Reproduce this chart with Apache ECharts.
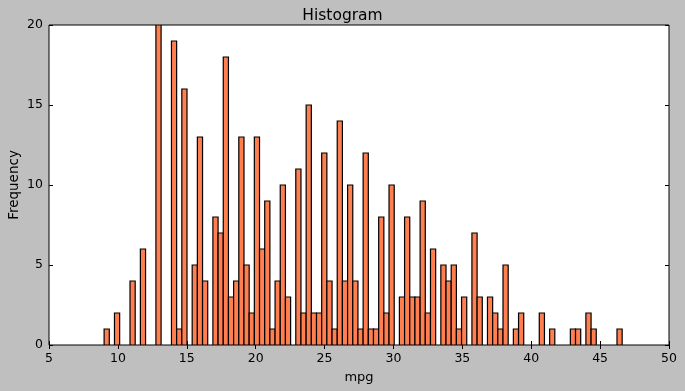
<!DOCTYPE html>
<html>
<head>
<meta charset="utf-8">
<script src="https://cdn.jsdelivr.net/npm/echarts@6/dist/echarts.min.js"></script>
<style>
  html, body { margin: 0; padding: 0; background: #bfbfbf; }
  #chart { width: 685px; height: 391px; }
</style>
</head>
<body>
<div id="chart"></div>
<script>
// histogram of mpg, 100 bins from 9.0 to 46.6
const binStart = 9.0;
const binWidth = 0.376;
const counts = [
  1, 0, 2, 0, 0, 4, 0, 6, 0, 0,
  20, 0, 0, 19, 1, 16, 0, 5, 13, 4,
  0, 8, 7, 18, 3, 4, 13, 5, 2, 13,
  6, 9, 1, 4, 10, 3, 0, 11, 2, 15,
  2, 2, 12, 4, 1, 14, 4, 10, 4, 1,
  12, 1, 1, 8, 2, 10, 0, 3, 8, 3,
  3, 9, 2, 6, 0, 5, 4, 5, 1, 3,
  0, 7, 3, 0, 3, 2, 1, 5, 0, 1,
  2, 0, 0, 0, 2, 0, 1, 0, 0, 0,
  1, 1, 0, 2, 1, 0, 0, 0, 0, 1
];
const xTicks = [5, 50, 5];   // min, max, step
const yTicks = [0, 20, 5];

const textColor = '#000';
const barColor = '#ff7f50';
const font = 'DejaVu Sans';

// [left edge, right edge, count]
const binData = counts.map((c, i) => [binStart + i * binWidth, binStart + (i + 1) * binWidth, c]);

function renderBin(params, api) {
  const c = api.value(2);
  if (!c) return null;
  const p0 = api.coord([api.value(0), c]);
  const p1 = api.coord([api.value(1), 0]);
  return {
    type: 'rect',
    shape: { x: p0[0], y: p0[1], width: p1[0] - p0[0], height: p1[1] - p0[1] },
    style: { fill: barColor, stroke: '#000', lineWidth: 1.2 }
  };
}

function axisX(pos, showLabel) {
  return {
    type: 'value', position: pos,
    min: xTicks[0], max: xTicks[1], interval: xTicks[2],
    splitLine: { show: false },
    axisLine: { show: false },
    axisTick: { show: true, inside: true, length: 4, lineStyle: { color: '#000' } },
    axisLabel: { show: showLabel, color: textColor, fontFamily: font, fontSize: 12.5, margin: 7 }
  };
}
function axisY(pos, showLabel) {
  return {
    type: 'value', position: pos,
    min: yTicks[0], max: yTicks[1], interval: yTicks[2],
    splitLine: { show: false },
    axisLine: { show: false },
    axisTick: { show: true, inside: true, length: 4, lineStyle: { color: '#000' } },
    axisLabel: { show: showLabel, color: textColor, fontFamily: font, fontSize: 12.5, margin: 6 }
  };
}

const chart = echarts.init(document.getElementById('chart'));
const xa = axisX('bottom', true);
xa.name = 'mpg';
xa.nameLocation = 'middle';
xa.nameGap = 26;
xa.nameMoveOverlap = false;
xa.nameTextStyle = { color: textColor, fontFamily: font, fontSize: 13 };
const ya = axisY('left', true);
ya.name = 'Frequency';
ya.nameLocation = 'middle';
ya.nameGap = 28;
ya.nameMoveOverlap = false;
ya.nameTextStyle = { color: textColor, fontFamily: font, fontSize: 13.5 };

chart.setOption({
  backgroundColor: '#bfbfbf',
  animation: false,
  title: {
    text: 'Histogram', left: 'center', top: 3,
    textStyle: { color: textColor, fontFamily: font, fontSize: 15.5, fontWeight: 'normal' }
  },
  grid: {
    left: 49, right: 16, top: 25, bottom: 46,
    outerBoundsMode: 'none',
    show: true, backgroundColor: '#fff', borderColor: '#000', borderWidth: 1
  },
  xAxis: [xa, axisX('top', false)],
  yAxis: [ya, axisY('right', false)],
  series: [{
    type: 'custom',
    renderItem: renderBin,
    encode: { x: [0, 1], y: 2 },
    data: binData,
    clip: true
  }]
});
</script>
</body>
</html>
